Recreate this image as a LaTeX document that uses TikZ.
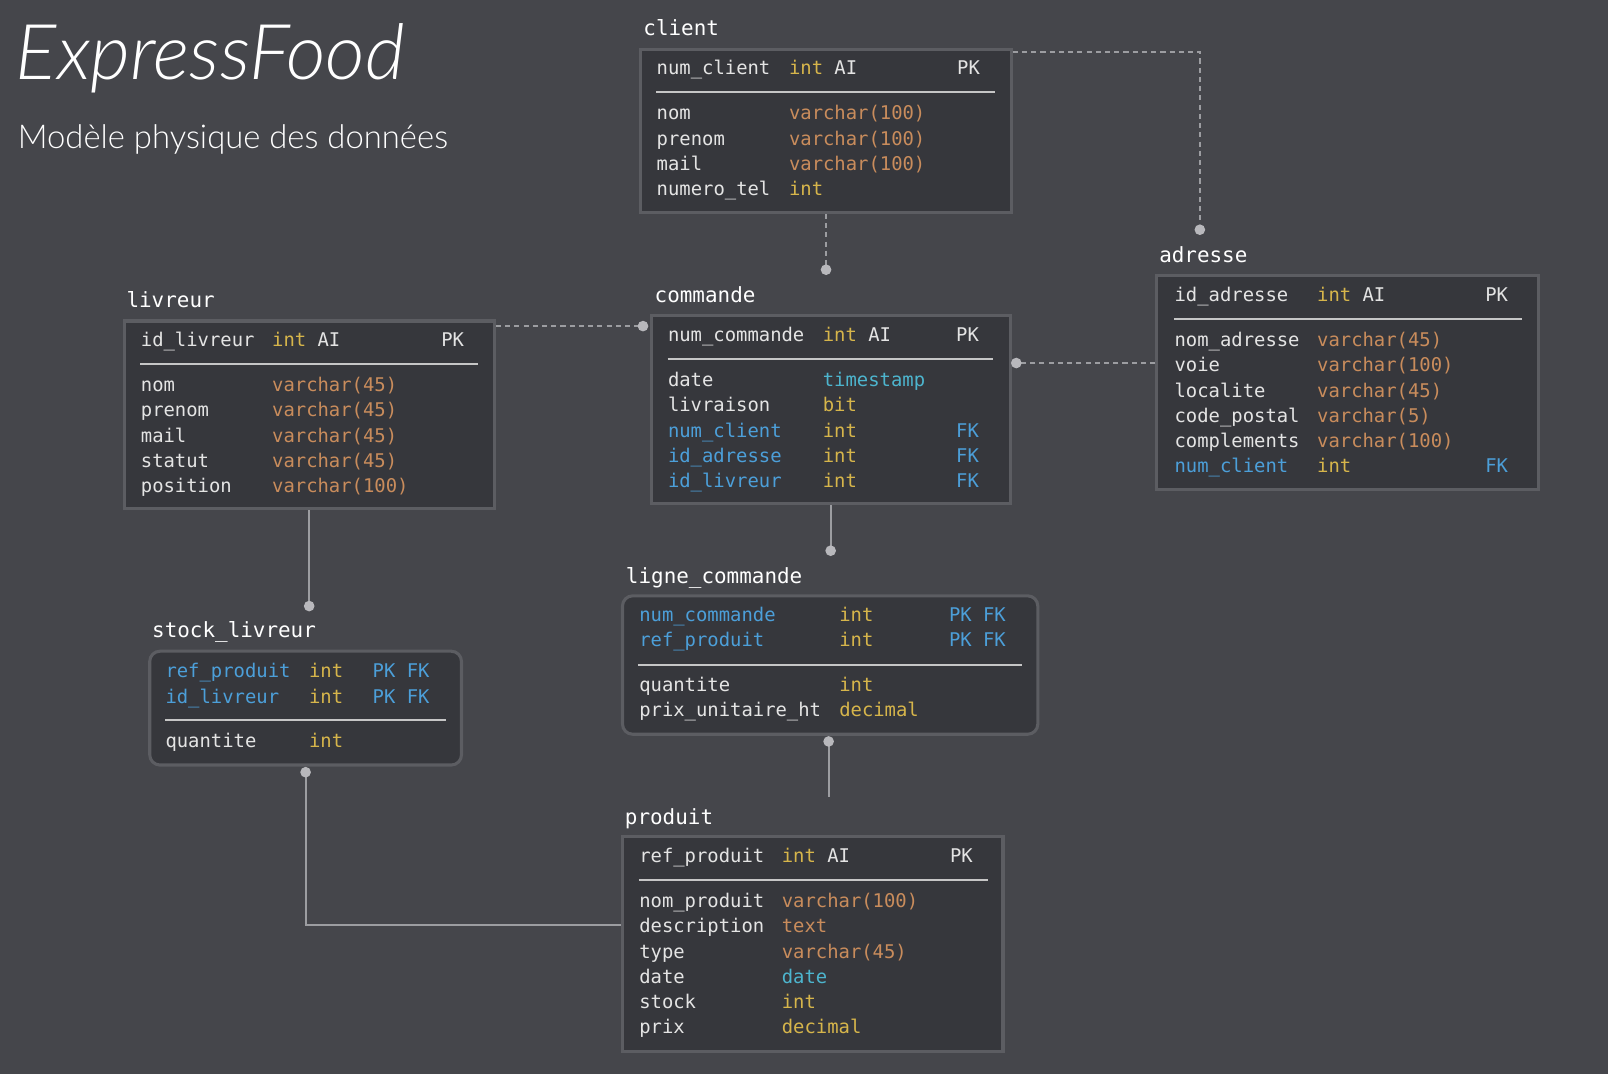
\documentclass[tikz,border=0pt]{standalone}
\usepackage{fontspec}
\setmonofont{DejaVu Sans Mono}
\newfontfamily\thinfont{Lato}[UprightFont={* Light},ItalicFont={* Light Italic}]
\usetikzlibrary{fit,calc}
\definecolor{bg}{HTML}{45464B}
\definecolor{boxfill}{HTML}{36373C}
\definecolor{boxline}{HTML}{5C5D62}
\definecolor{fg}{HTML}{E4E4E4}
\definecolor{orn}{HTML}{C98C5C}
\definecolor{yel}{HTML}{D6B54B}
\definecolor{cyn}{HTML}{4DB5CE}
\definecolor{blu}{HTML}{4C9FD9}
\definecolor{conn}{HTML}{9C9DA1}
\definecolor{dotc}{HTML}{B8B8BC}
\definecolor{sepc}{HTML}{C6C6C6}
\tikzset{
  tbl/.style={draw=boxline, fill=boxfill, line width=1.5pt, inner sep=0pt},
  rtbl/.style={tbl, rounded corners=5pt},
  ttl/.style={font=\ttfamily\fontsize{10.2}{12}\selectfont, text=white, inner sep=0pt, anchor=base west},
  txt/.style={font=\ttfamily\fontsize{9.2}{11}\selectfont, text=fg, inner sep=0pt, anchor=base west},
  sepline/.style={draw=sepc, line width=1pt},
  solidln/.style={draw=conn, line width=0.9pt},
  dashln/.style={draw=conn, line width=0.9pt, dash pattern=on 2.5pt off 2pt},
  enddot/.style={fill=dotc}
}
\newcommand\cell[5]{\node[txt,text=#4] (#1) at (#2,#3) {#5};}
\begin{document}
\begin{tikzpicture}[x=0.5pt,y=-0.5pt]
\fill[bg] (0,0) rectangle (1568,1047.3);
\useasboundingbox (0,0) rectangle (1568,1047.3);

% heading
\node[inner sep=0pt, anchor=base west, text=white, font=\thinfont\itshape\fontsize{37.5}{44}\selectfont] (maintitle) at (15,78) {ExpressFood};
\node[inner sep=0pt, anchor=base west, text=white, font=\thinfont\fontsize{16}{19}\selectfont] (subtitle) at (17,145) {Modèle physique des données};

% ---------- client
\node[ttl] (clientT) at (627,35) {client};
\node[tbl, fit={(625,48) (986,207)}] (client) {};
\cell{c0a}{640}{73}{fg}{num\_client}
\cell{c0b}{769}{73}{fg}{\textcolor{yel}{int} AI}
\cell{c0c}{933}{73}{fg}{PK}
\draw[sepline] (640,90) -- (970,90);
\cell{c1a}{640}{117}{fg}{nom}
\cell{c1b}{769}{117}{orn}{varchar(100)}
\cell{c2a}{640}{141.6}{fg}{prenom}
\cell{c2b}{769}{141.6}{orn}{varchar(100)}
\cell{c3a}{640}{166.2}{fg}{mail}
\cell{c3b}{769}{166.2}{orn}{varchar(100)}
\cell{c4a}{640}{190.8}{fg}{numero\_tel}
\cell{c4b}{769}{190.8}{yel}{int}

% ---------- commande
\node[ttl] (commandeT) at (638,295) {commande};
\node[tbl, fit={(635,308) (985,491)}] (commande) {};
\cell{m0a}{651}{333}{fg}{num\_commande}
\cell{m0b}{802}{333}{fg}{\textcolor{yel}{int} AI}
\cell{m0c}{932}{333}{fg}{PK}
\draw[sepline] (651,350) -- (968,350);
\cell{m1a}{651}{377}{fg}{date}
\cell{m1b}{802}{377}{cyn}{timestamp}
\cell{m2a}{651}{401.6}{fg}{livraison}
\cell{m2b}{802}{401.6}{yel}{bit}
\cell{m3a}{651}{426.2}{blu}{num\_client}
\cell{m3b}{802}{426.2}{yel}{int}
\cell{m3c}{932}{426.2}{blu}{FK}
\cell{m4a}{651}{450.8}{blu}{id\_adresse}
\cell{m4b}{802}{450.8}{yel}{int}
\cell{m4c}{932}{450.8}{blu}{FK}
\cell{m5a}{651}{475.4}{blu}{id\_livreur}
\cell{m5b}{802}{475.4}{yel}{int}
\cell{m5c}{932}{475.4}{blu}{FK}

% ---------- livreur
\node[ttl] (livreurT) at (123,300) {livreur};
\node[tbl, fit={(121,313) (482,496)}] (livreur) {};
\cell{l0a}{137}{338}{fg}{id\_livreur}
\cell{l0b}{265}{338}{fg}{\textcolor{yel}{int} AI}
\cell{l0c}{430}{338}{fg}{PK}
\draw[sepline] (137,355) -- (466,355);
\cell{l1a}{137}{382}{fg}{nom}
\cell{l1b}{265}{382}{orn}{varchar(45)}
\cell{l2a}{137}{406.6}{fg}{prenom}
\cell{l2b}{265}{406.6}{orn}{varchar(45)}
\cell{l3a}{137}{431.2}{fg}{mail}
\cell{l3b}{265}{431.2}{orn}{varchar(45)}
\cell{l4a}{137}{455.8}{fg}{statut}
\cell{l4b}{265}{455.8}{orn}{varchar(45)}
\cell{l5a}{137}{480.4}{fg}{position}
\cell{l5b}{265}{480.4}{orn}{varchar(100)}

% ---------- adresse
\node[ttl] (adresseT) at (1130,256) {adresse};
\node[tbl, fit={(1128,269) (1500,477)}] (adresse) {};
\cell{a0a}{1145}{294}{fg}{id\_adresse}
\cell{a0b}{1284}{294}{fg}{\textcolor{yel}{int} AI}
\cell{a0c}{1448}{294}{fg}{PK}
\draw[sepline] (1145,311) -- (1484,311);
\cell{a1a}{1145}{338}{fg}{nom\_adresse}
\cell{a1b}{1284}{338}{orn}{varchar(45)}
\cell{a2a}{1145}{362.6}{fg}{voie}
\cell{a2b}{1284}{362.6}{orn}{varchar(100)}
\cell{a3a}{1145}{387.2}{fg}{localite}
\cell{a3b}{1284}{387.2}{orn}{varchar(45)}
\cell{a4a}{1145}{411.8}{fg}{code\_postal}
\cell{a4b}{1284}{411.8}{orn}{varchar(5)}
\cell{a5a}{1145}{436.4}{fg}{complements}
\cell{a5b}{1284}{436.4}{orn}{varchar(100)}
\cell{a6a}{1145}{461}{blu}{num\_client}
\cell{a6b}{1284}{461}{yel}{int}
\cell{a6c}{1448}{461}{blu}{FK}

% ---------- ligne_commande
\node[ttl] (ligneT) at (610,569) {ligne\_commande};
\node[rtbl, fit={(607,581) (1012,716)}] (ligne) {};
\cell{g0a}{623}{606}{blu}{num\_commande}
\cell{g0b}{818}{606}{yel}{int}
\cell{g0c}{925}{606}{blu}{PK FK}
\cell{g1a}{623}{630.6}{blu}{ref\_produit}
\cell{g1b}{818}{630.6}{yel}{int}
\cell{g1c}{925}{630.6}{blu}{PK FK}
\draw[sepline] (622,648) -- (997,648);
\cell{g2a}{623}{674}{fg}{quantite}
\cell{g2b}{818}{674}{yel}{int}
\cell{g3a}{623}{698.6}{fg}{prix\_unitaire\_ht}
\cell{g3b}{818}{698.6}{yel}{decimal}

% ---------- stock_livreur
\node[ttl] (stockT) at (148,622) {stock\_livreur};
\node[rtbl, fit={(146,635) (450,746)}] (stock) {};
\cell{s0a}{161}{661}{blu}{ref\_produit}
\cell{s0b}{301}{661}{yel}{int}
\cell{s0c}{363}{661}{blu}{PK FK}
\cell{s1a}{161}{685.6}{blu}{id\_livreur}
\cell{s1b}{301}{685.6}{yel}{int}
\cell{s1c}{363}{685.6}{blu}{PK FK}
\draw[sepline] (161,702) -- (435,702);
\cell{s2a}{161}{729}{fg}{quantite}
\cell{s2b}{301}{729}{yel}{int}

% ---------- produit
\node[ttl] (produitT) at (609,804) {produit};
\node[tbl, fit={(607,816) (978,1025)}] (produit) {};
\cell{p0a}{623}{841}{fg}{ref\_produit}
\cell{p0b}{762}{841}{fg}{\textcolor{yel}{int} AI}
\cell{p0c}{926}{841}{fg}{PK}
\draw[sepline] (623,858) -- (963,858);
\cell{p1a}{623}{885}{fg}{nom\_produit}
\cell{p1b}{762}{885}{orn}{varchar(100)}
\cell{p2a}{623}{909.6}{fg}{description}
\cell{p2b}{762}{909.6}{orn}{text}
\cell{p3a}{623}{934.2}{fg}{type}
\cell{p3b}{762}{934.2}{orn}{varchar(45)}
\cell{p4a}{623}{958.8}{fg}{date}
\cell{p4b}{762}{958.8}{cyn}{date}
\cell{p5a}{623}{983.4}{fg}{stock}
\cell{p5b}{762}{983.4}{yel}{int}
\cell{p6a}{623}{1008}{fg}{prix}
\cell{p6b}{762}{1008}{yel}{decimal}

% ---------- connector end points
\coordinate (adrDot) at (1170,224);
\coordinate (cmdTopDot) at (805.5,263);
\coordinate (cmdLeftDot) at (627,318);
\coordinate (cmdRightDot) at (991,354);
\coordinate (ligneTopDot) at (810,537);
\coordinate (stockTopDot) at (301.5,591);
\coordinate (ligneBotDot) at (808,723);
\coordinate (prodFree) at (808,777);
\coordinate (stockBotDot) at (298,753);

% ---------- connectors
\draw[dashln] ($(client.north east)+(0,4)$) -| (adrDot);
\draw[dashln] (client.south) -- (cmdTopDot);
\draw[dashln] (livreur.east |- cmdLeftDot) -- (cmdLeftDot);
\draw[dashln] (adresse.west |- cmdRightDot) -- (cmdRightDot);
\draw[solidln] (commande.south) -- (ligneTopDot);
\draw[solidln] (livreur.south) -- (stockTopDot);
\draw[solidln] (prodFree) -- (ligneBotDot);
\draw[solidln] (produit.west |- 0,902) -| (stockBotDot);

\foreach \d in {adrDot,cmdTopDot,cmdLeftDot,cmdRightDot,ligneTopDot,stockTopDot,ligneBotDot,stockBotDot}
  \fill[enddot] (\d) circle[radius=2.6pt];
\end{tikzpicture}
\end{document}
